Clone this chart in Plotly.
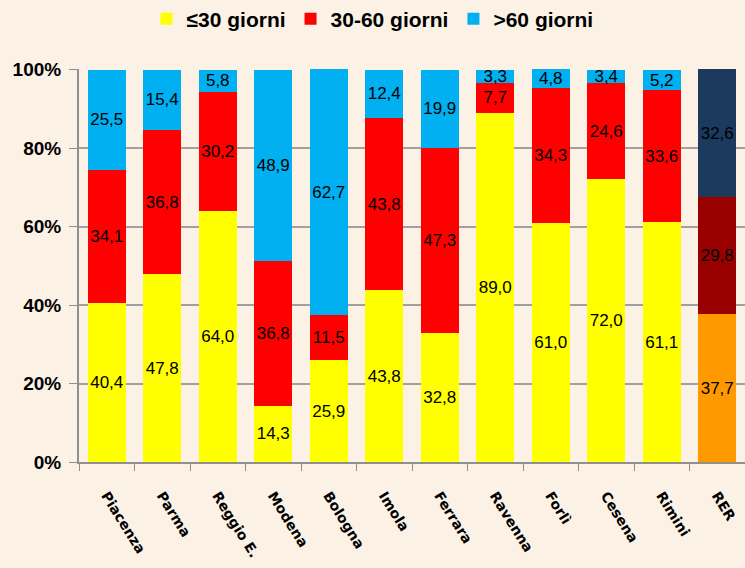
import plotly.graph_objects as go

categories = ["Piacenza", "Parma", "Reggio E.", "Modena", "Bologna", "Imola",
              "Ferrara", "Ravenna", "Forlì", "Cesena", "Rimini", "RER"]
fino_30 = [40.4, 47.8, 64.0, 14.3, 25.9, 43.8, 32.8, 89.0, 61.0, 72.0, 61.1, 37.7]
da_30_60 = [34.1, 36.8, 30.2, 36.8, 11.5, 43.8, 47.3, 7.7, 34.3, 24.6, 33.6, 29.8]
oltre_60 = [25.5, 15.4, 5.8, 48.9, 62.7, 12.4, 19.9, 3.3, 4.8, 3.4, 5.2, 32.6]
y_ticks = [0, 20, 40, 60, 80, 100]


def fmt(v):
    return f"{v:.1f}".replace(".", ",")


series = [
    ("≤30 giorni", fino_30, "#FFFF00", "#FF9900"),
    ("30-60 giorni", da_30_60, "#FF0000", "#990000"),
    (">60 giorni", oltre_60, "#00B0F0", "#1B3A5E"),
]

fig = go.Figure()
for name, vals, col, rer_col in series:
    colors = [col] * (len(categories) - 1) + [rer_col]
    fig.add_trace(go.Bar(
        x=categories, y=vals, name=name,
        marker=dict(color=colors, line=dict(width=0)),
        text=[fmt(v) for v in vals],
        textposition="inside", insidetextanchor="middle",
        textfont=dict(family="Liberation Sans, Arial", size=17, color="black"),
        textangle=0,
        cliponaxis=False,
    ))

fig.update_layout(
    barmode="stack",
    bargap=0.31,
    width=745, height=568,
    margin=dict(l=79, r=0, t=69, b=106),
    paper_bgcolor="#FBF2E5",
    plot_bgcolor="#FBF2E5",
    uniformtext=dict(minsize=17, mode="show"),
    legend=dict(
        orientation="h", x=0.5, xref="container", xanchor="center",
        y=1 - 19 / 568, yref="container", yanchor="middle",
        font=dict(family="Liberation Sans Narrow, Arial Narrow, Liberation Sans", size=21,
                  color="black", weight="bold"),
        itemsizing="constant", traceorder="normal", bgcolor="rgba(0,0,0,0)",
    ),
    showlegend=True,
)
fig.update_xaxes(
    tickangle=58, ticks="outside", tickson="boundaries", ticklen=7,
    tickcolor="#909090", showline=True, linecolor="#909090", linewidth=2,
    tickfont=dict(family="DejaVu Sans", size=14, color="black", weight="bold"),
    ticklabelstandoff=18,
    range=[-0.5, 11.5],
)
fig.update_yaxes(
    range=[0, 100.15], tickvals=y_ticks, ticktext=[f"{t}%" for t in y_ticks],
    ticks="outside", ticklen=8, tickcolor="#909090",
    showline=True, linecolor="#909090", linewidth=2,
    showgrid=True, gridcolor="#A0A0A0", gridwidth=1.5,
    tickfont=dict(family="Liberation Sans, Arial", size=19, color="black", weight="bold"),
    ticklabelstandoff=4,
    zeroline=False,
)

fig.write_html("out.html", config={"displayModeBar": False},
               post_script="document.body.style.margin='0';")
